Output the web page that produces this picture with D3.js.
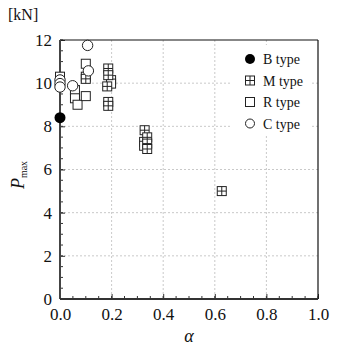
<!DOCTYPE html>
<html>
<head>
<meta charset="utf-8">
<script src="https://cdn.jsdelivr.net/npm/d3@7"></script>
<style>
  body { margin: 0; background: #fff; }
</style>
</head>
<body>
<svg id="chart"></svg>
<script>
const width = 345, height = 342;
const padLeft = 60, padRight = 318, padTop = 40, padBottom = 299;
const serif = "'Liberation Serif', 'Times New Roman', 'DejaVu Serif', serif";

const xTicks = [0.0, 0.2, 0.4, 0.6, 0.8, 1.0];
const yTicks = [0, 2, 4, 6, 8, 10, 12];

const bAlpha = [0];
const bP = [8.4];
const mAlpha = [0.1, 0.187, 0.187, 0.183, 0.187, 0.187, 0.328, 0.338, 0.338, 0.338, 0.627];
const mP = [10.2, 10.68, 10.37, 9.85, 9.13, 8.95, 7.82, 7.49, 7.2, 6.95, 5.0];
const rAlpha = [0, 0, 0.058, 0.058, 0.068, 0.1, 0.1, 0.1, 0.198, 0.198, 0.326, 0.326];
const rP = [10.3, 10.1, 9.68, 9.3, 9.0, 10.9, 10.3, 9.4, 10.14, 9.98, 7.28, 7.1];
const cAlpha = [0, 0, 0, 0.049, 0.107, 0.11];
const cP = [10.15, 9.98, 9.82, 9.88, 11.75, 10.57];

const legendNames = ["B type", "M type", "R type", "C type"];

const svg = d3.select("#chart").attr("width", width).attr("height", height)
    .style("font-family", serif);

const x = d3.scaleLinear().domain([0, 1]).range([padLeft, padRight]);
const y = d3.scaleLinear().domain([0, 12]).range([padBottom, padTop]);

// grid
svg.append("g")
    .selectAll("line")
    .data(xTicks.slice(1, -1))
    .enter()
    .append("line")
    .attr("x1", (d) => x(d)).attr("x2", (d) => x(d))
    .attr("y1", padTop).attr("y2", padBottom)
    .attr("stroke", "#bbb").attr("stroke-width", 0.8)
    .attr("stroke-dasharray", "2,2");
svg.append("g")
    .selectAll("line")
    .data(yTicks.slice(1, -1))
    .enter()
    .append("line")
    .attr("x1", padLeft).attr("x2", padRight)
    .attr("y1", (d) => y(d)).attr("y2", (d) => y(d))
    .attr("stroke", "#bbb").attr("stroke-width", 0.8)
    .attr("stroke-dasharray", "2,2");

// legend background
svg.append("rect")
    .attr("x", 232).attr("y", 45).attr("width", 80).attr("height", 90)
    .attr("fill", "#fff");

// axes
const xAxis = d3.axisBottom(x).tickValues(xTicks).tickFormat(d3.format(".1f"))
    .tickSize(-5).tickPadding(9);
const yAxis = d3.axisLeft(y).tickValues(yTicks).tickFormat(d3.format("d"))
    .tickSize(-5).tickPadding(8);

const gx = svg.append("g").attr("transform", `translate(0,${padBottom})`).call(xAxis)
    .attr("font-family", null).attr("font-size", null);
gx.select(".domain").remove();
gx.selectAll("text").style("font-family", serif).style("font-size", "17px").attr("fill", "#111");
gx.selectAll("line").attr("stroke", "#333");

const gy = svg.append("g").attr("transform", `translate(${padLeft},0)`).call(yAxis)
    .attr("font-family", null).attr("font-size", null);
gy.select(".domain").remove();
gy.selectAll("text").style("font-family", serif).style("font-size", "17px").attr("fill", "#111");
gy.selectAll("line").attr("stroke", "#333");

// minor ticks
svg.append("g")
    .selectAll("line")
    .data(d3.range(0, 1.0001, 0.05))
    .enter()
    .append("line")
    .attr("x1", (d) => x(d)).attr("x2", (d) => x(d))
    .attr("y1", padBottom).attr("y2", padBottom - 3)
    .attr("stroke", "#333");
svg.append("g")
    .selectAll("line")
    .data(d3.range(0, 12.0001, 0.5))
    .enter()
    .append("line")
    .attr("x1", padLeft).attr("x2", padLeft + 3)
    .attr("y1", (d) => y(d)).attr("y2", (d) => y(d))
    .attr("stroke", "#333");

// frame
svg.append("line").attr("x1", padLeft).attr("x2", padRight).attr("y1", padTop).attr("y2", padTop)
    .attr("stroke", "#111").attr("stroke-width", 1.2);
svg.append("line").attr("x1", padRight).attr("x2", padRight).attr("y1", padTop).attr("y2", padBottom)
    .attr("stroke", "#111").attr("stroke-width", 1.2);
svg.append("line").attr("x1", padLeft).attr("x2", padLeft).attr("y1", padTop).attr("y2", padBottom)
    .attr("stroke", "#444").attr("stroke-width", 2);
svg.append("line").attr("x1", padLeft).attr("x2", padRight).attr("y1", padBottom).attr("y2", padBottom)
    .attr("stroke", "#333").attr("stroke-width", 2);

// markers
const s = 9;
const drawSquare = (g, cx, cy) => {
    g.append("rect").attr("x", cx - s / 2).attr("y", cy - s / 2)
        .attr("width", s).attr("height", s)
        .attr("fill", "#fff").attr("stroke", "#222").attr("stroke-width", 1);
};
const drawGrid = (g, cx, cy) => {
    drawSquare(g, cx, cy);
    g.append("line").attr("x1", cx).attr("x2", cx).attr("y1", cy - s / 2).attr("y2", cy + s / 2)
        .attr("stroke", "#222").attr("stroke-width", 1);
    g.append("line").attr("x1", cx - s / 2).attr("x2", cx + s / 2).attr("y1", cy).attr("y2", cy)
        .attr("stroke", "#222").attr("stroke-width", 1);
};
const drawCircle = (g, cx, cy) => {
    g.append("circle").attr("cx", cx).attr("cy", cy).attr("r", 5.2)
        .attr("fill", "#fff").attr("stroke", "#222").attr("stroke-width", 1);
};
const drawDot = (g, cx, cy) => {
    g.append("circle").attr("cx", cx).attr("cy", cy).attr("r", 5.5).attr("fill", "#000");
};

const pts = svg.append("g");
rAlpha.forEach((a, i) => drawSquare(pts, x(a), y(rP[i])));
mAlpha.forEach((a, i) => drawGrid(pts, x(a), y(mP[i])));
cAlpha.forEach((a, i) => drawCircle(pts, x(a), y(cP[i])));
bAlpha.forEach((a, i) => drawDot(pts, x(a), y(bP[i])));

// legend
const lg = svg.append("g");
const drawers = [drawDot, drawGrid, drawSquare, drawCircle];
legendNames.forEach((name, i) => {
    const ly = 59 + i * 21.5;
    if (i === 0) lg.append("circle").attr("cx", 250).attr("cy", ly).attr("r", 5).attr("fill", "#000");
    else if (i === 3) lg.append("circle").attr("cx", 250).attr("cy", ly).attr("r", 4.5)
        .attr("fill", "#fff").attr("stroke", "#222");
    else drawers[i](lg, 250, ly);
    lg.append("text").attr("x", 263).attr("y", ly + 5)
        .style("font-family", serif).style("font-size", "14px").attr("fill", "#111").text(name);
});

// titles
svg.append("text").attr("x", 8).attr("y", 20)
    .style("font-family", serif).style("font-size", "16px").attr("fill", "#111").text("[kN]");
const yl = svg.append("text")
    .attr("transform", "translate(24,175) rotate(-90)")
    .attr("text-anchor", "middle").style("font-family", serif).attr("fill", "#111");
yl.append("tspan").attr("font-style", "italic").style("font-size", "18px").text("P");
yl.append("tspan").style("font-size", "10px").attr("dy", 3).text("max");
svg.append("text").attr("x", 189).attr("y", 342).attr("text-anchor", "middle")
    .style("font-family", serif).attr("font-style", "italic").style("font-size", "18px")
    .attr("fill", "#111").text("α");
</script>
</body>
</html>
